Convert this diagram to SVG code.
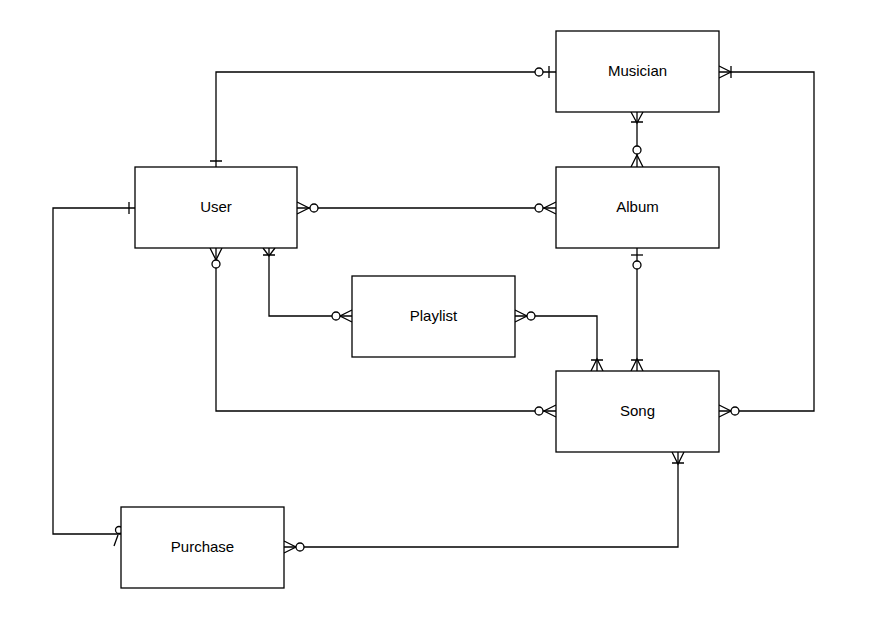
<svg xmlns="http://www.w3.org/2000/svg" width="869" height="619" viewBox="0 0 869 619">
<style>
.box{fill:#fff;stroke:#000;stroke-width:1.3}
.lbl{font-family:"Liberation Sans",Arial,sans-serif;font-size:15px;fill:#000;text-anchor:middle;dominant-baseline:central}
.e{fill:none;stroke:#000;stroke-width:1.3}
.c{fill:#fff;stroke:#000;stroke-width:1.3}
</style>
<rect width="869" height="619" fill="#fff"/>
<g id="connectors">
  <!-- User - Musician -->
  <path class="e" d="M216,167 V72 H556"/>
  <path class="e" d="M210,161 H222 M549,66 V78"/>
  <circle class="c" cx="539" cy="72" r="4"/>
  <!-- Musician - Song -->
  <path class="e" d="M719,72 H814 V411 H719"/>
  <path class="e" d="M719,66 L731,72 L719,78 M731,66 V78"/>
  <path class="e" d="M719,405 L731,411 L719,417"/>
  <circle class="c" cx="735" cy="411" r="4"/>
  <!-- Musician - Album -->
  <path class="e" d="M637,112 V167"/>
  <path class="e" d="M631,112 L637,123 L643,112 M631,122 H643"/>
  <path class="e" d="M631,167 L637,155 L643,167"/>
  <circle class="c" cx="637" cy="150" r="4"/>
  <!-- User - Album -->
  <path class="e" d="M297,208 H556"/>
  <path class="e" d="M297,202 L309,208 L297,214"/>
  <circle class="c" cx="314" cy="208" r="4"/>
  <path class="e" d="M556,202 L544,208 L556,214"/>
  <circle class="c" cx="539" cy="208" r="4"/>
  <!-- User - Purchase -->
  <path class="e" d="M135,208 H53 V534 H121"/>
  <path class="e" d="M129,202 V214"/>
  <path class="e" d="M118,535 L114,546"/>
  <circle class="c" cx="119" cy="530" r="3.5"/>
  <!-- User - Song -->
  <path class="e" d="M216,248 V411 H556"/>
  <path class="e" d="M210,248 L216,260 L222,248"/>
  <circle class="c" cx="216" cy="264" r="4"/>
  <path class="e" d="M556,405 L544,411 L556,417"/>
  <circle class="c" cx="539" cy="411" r="4"/>
  <!-- User - Playlist -->
  <path class="e" d="M269,248 V316 H352"/>
  <path class="e" d="M263,248 L269,256 L275,248 M263,255 H275"/>
  <path class="e" d="M352,310 L340,316 L352,322"/>
  <circle class="c" cx="336" cy="316" r="4"/>
  <!-- Playlist - Song -->
  <path class="e" d="M515,316 H597 V371"/>
  <path class="e" d="M515,310 L527,316 L515,322"/>
  <circle class="c" cx="531" cy="316" r="4"/>
  <path class="e" d="M591,371 L597,359 L603,371 M591,360 H603"/>
  <!-- Album - Song -->
  <path class="e" d="M637,248 V371"/>
  <path class="e" d="M631,255 H643"/>
  <circle class="c" cx="637" cy="265" r="4"/>
  <path class="e" d="M631,371 L637,359 L643,371 M631,360 H643"/>
  <!-- Purchase - Song -->
  <path class="e" d="M284,547 H678 V452"/>
  <path class="e" d="M284,541 L296,547 L284,553"/>
  <circle class="c" cx="300" cy="547" r="4"/>
  <path class="e" d="M672,452 L678,464 L684,452 M672,463 H684"/>
</g>
<g id="musician"><rect class="box" x="556" y="31" width="163" height="81"/><text class="lbl" x="637.5" y="70.5">Musician</text></g>
<g id="album"><rect class="box" x="556" y="167" width="163" height="81"/><text class="lbl" x="637.5" y="206.5">Album</text></g>
<g id="user"><rect class="box" x="135" y="167" width="162" height="81"/><text class="lbl" x="216" y="206.5">User</text></g>
<g id="playlist"><rect class="box" x="352" y="276" width="163" height="81"/><text class="lbl" x="433.5" y="315.5">Playlist</text></g>
<g id="song"><rect class="box" x="556" y="371" width="163" height="81"/><text class="lbl" x="637.5" y="410.5">Song</text></g>
<g id="purchase"><rect class="box" x="121" y="507" width="163" height="81"/><text class="lbl" x="202.5" y="546.5">Purchase</text></g>
</svg>
